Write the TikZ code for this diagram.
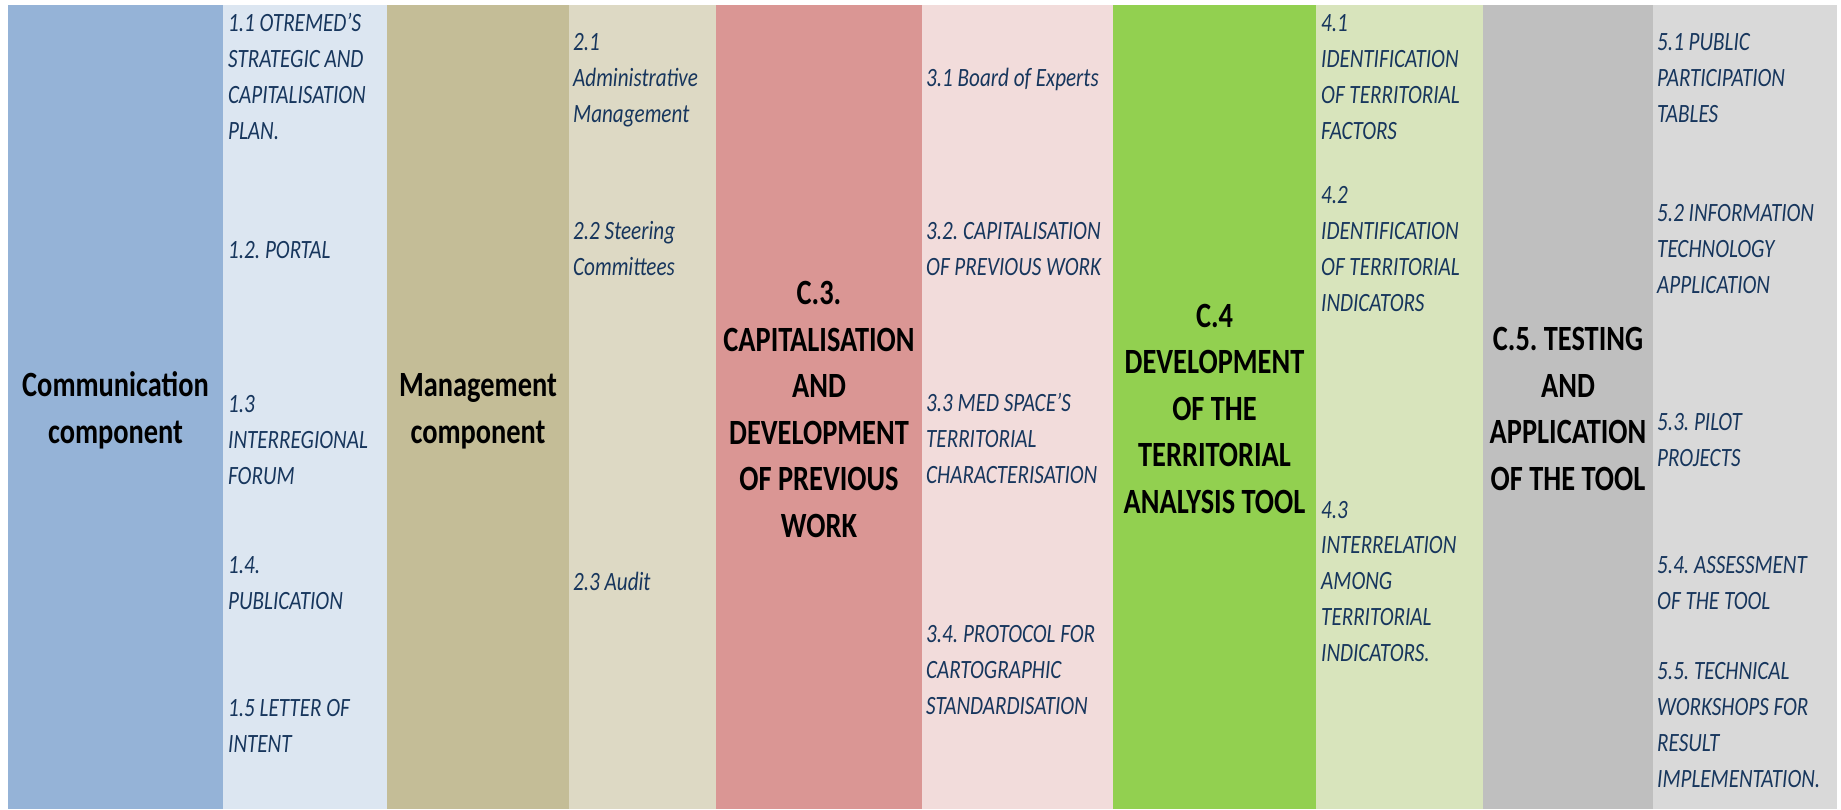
\documentclass[tikz,border=0pt]{standalone}
\usepackage{fontspec}
\usepackage{tikz}
\newfontfamily\itemfont[FakeStretch=0.8]{Carlito}
\frenchspacing
\definecolor{commdark}{HTML}{95B3D7}
\definecolor{commlight}{HTML}{DCE6F1}
\definecolor{mgmtdark}{HTML}{C4BD97}
\definecolor{mgmtlight}{HTML}{DDD9C4}
\definecolor{capdark}{HTML}{DA9694}
\definecolor{caplight}{HTML}{F2DCDB}
\definecolor{tooldark}{HTML}{92D050}
\definecolor{toollight}{HTML}{D8E4BC}
\definecolor{testdark}{HTML}{BFBFBF}
\definecolor{testlight}{HTML}{D9D9D9}
\definecolor{itemblue}{HTML}{17365D}
\tikzstyle{headtext} = [anchor=base, align=center, inner sep=0pt, text=black,
    font={\itemfont\bfseries\fontsize{35.5}{46.5}\selectfont}]
\tikzstyle{itemtext} = [anchor=base west, align=left, inner sep=0pt, text=itemblue,
    font={\itemfont\itshape\fontsize{26.4}{35.7}\selectfont}]

\begin{document}
\begin{tikzpicture}[x=1pt, y=-1pt]
    \useasboundingbox[fill=white] (0,0) rectangle (1841,809);
    % column bands
    \foreach \xa/\xb/\col in {8/223/commdark, 223/387/commlight, 387/569/mgmtdark,
        569/716/mgmtlight, 716/922/capdark, 922/1113/caplight, 1113/1316/tooldark,
        1316/1483/toollight, 1483/1653/testdark, 1653/1837/testlight}
        \fill[\col] (\xa,5) rectangle (\xb,809);

    % component titles (placed at the baseline of their last line)
    \node[headtext] (comm) at (115.5,443) {Communication\\component};
    \node[headtext] (mgmt) at (478,443) {Management\\component};
    \node[headtext] (cap) at (819,537) {C.3.\\CAPITALISATION\\AND\\DEVELOPMENT\\OF PREVIOUS\\WORK};
    \node[headtext] (tool) at (1214.5,513) {C.4\\DEVELOPMENT\\OF THE\\TERRITORIAL\\ANALYSIS TOOL};
    \node[headtext] (test) at (1568,490) {C.5. TESTING\\AND\\APPLICATION\\OF THE TOOL};

    % actions 1
    \node[itemtext] (a11) at (228,139) {1.1 OTREMED’S\\STRATEGIC AND\\CAPITALISATION\\PLAN.};
    \node[itemtext] (a12) at (228,258) {1.2. PORTAL};
    \node[itemtext] (a13) at (228,484) {1.3\\INTERREGIONAL\\FORUM};
    \node[itemtext] (a14) at (228,609) {1.4.\\PUBLICATION};
    \node[itemtext] (a15) at (228,752) {1.5 LETTER OF\\INTENT};
    % actions 2
    \node[itemtext] (a21) at (573,122) {2.1\\Administrative\\Management};
    \node[itemtext] (a22) at (573,275) {2.2 Steering\\Committees};
    \node[itemtext] (a23) at (573,590) {2.3 Audit};
    % actions 3
    \node[itemtext] (a31) at (926,86) {3.1 Board of Experts};
    \node[itemtext] (a32) at (926,275) {3.2. CAPITALISATION\\OF PREVIOUS WORK};
    \node[itemtext] (a33) at (926,483) {3.3 MED SPACE’S\\TERRITORIAL\\CHARACTERISATION};
    \node[itemtext] (a34) at (926,714) {3.4. PROTOCOL FOR\\CARTOGRAPHIC\\STANDARDISATION};
    % actions 4
    \node[itemtext] (a41) at (1321,139) {4.1\\IDENTIFICATION\\OF TERRITORIAL\\FACTORS};
    \node[itemtext] (a42) at (1321,311) {4.2\\IDENTIFICATION\\OF TERRITORIAL\\INDICATORS};
    \node[itemtext] (a43) at (1321,661) {4.3\\INTERRELATION\\AMONG\\TERRITORIAL\\INDICATORS.};
    % actions 5
    \node[itemtext] (a51) at (1657,122) {5.1 PUBLIC\\PARTICIPATION\\TABLES};
    \node[itemtext] (a52) at (1657,293) {5.2 INFORMATION\\TECHNOLOGY\\APPLICATION};
    \node[itemtext] (a53) at (1657,466) {5.3. PILOT\\PROJECTS};
    \node[itemtext] (a54) at (1657,609) {5.4. ASSESSMENT\\OF THE TOOL};
    \node[itemtext] (a55) at (1657,787) {5.5. TECHNICAL\\WORKSHOPS FOR\\RESULT\\IMPLEMENTATION.};
\end{tikzpicture}
\end{document}
